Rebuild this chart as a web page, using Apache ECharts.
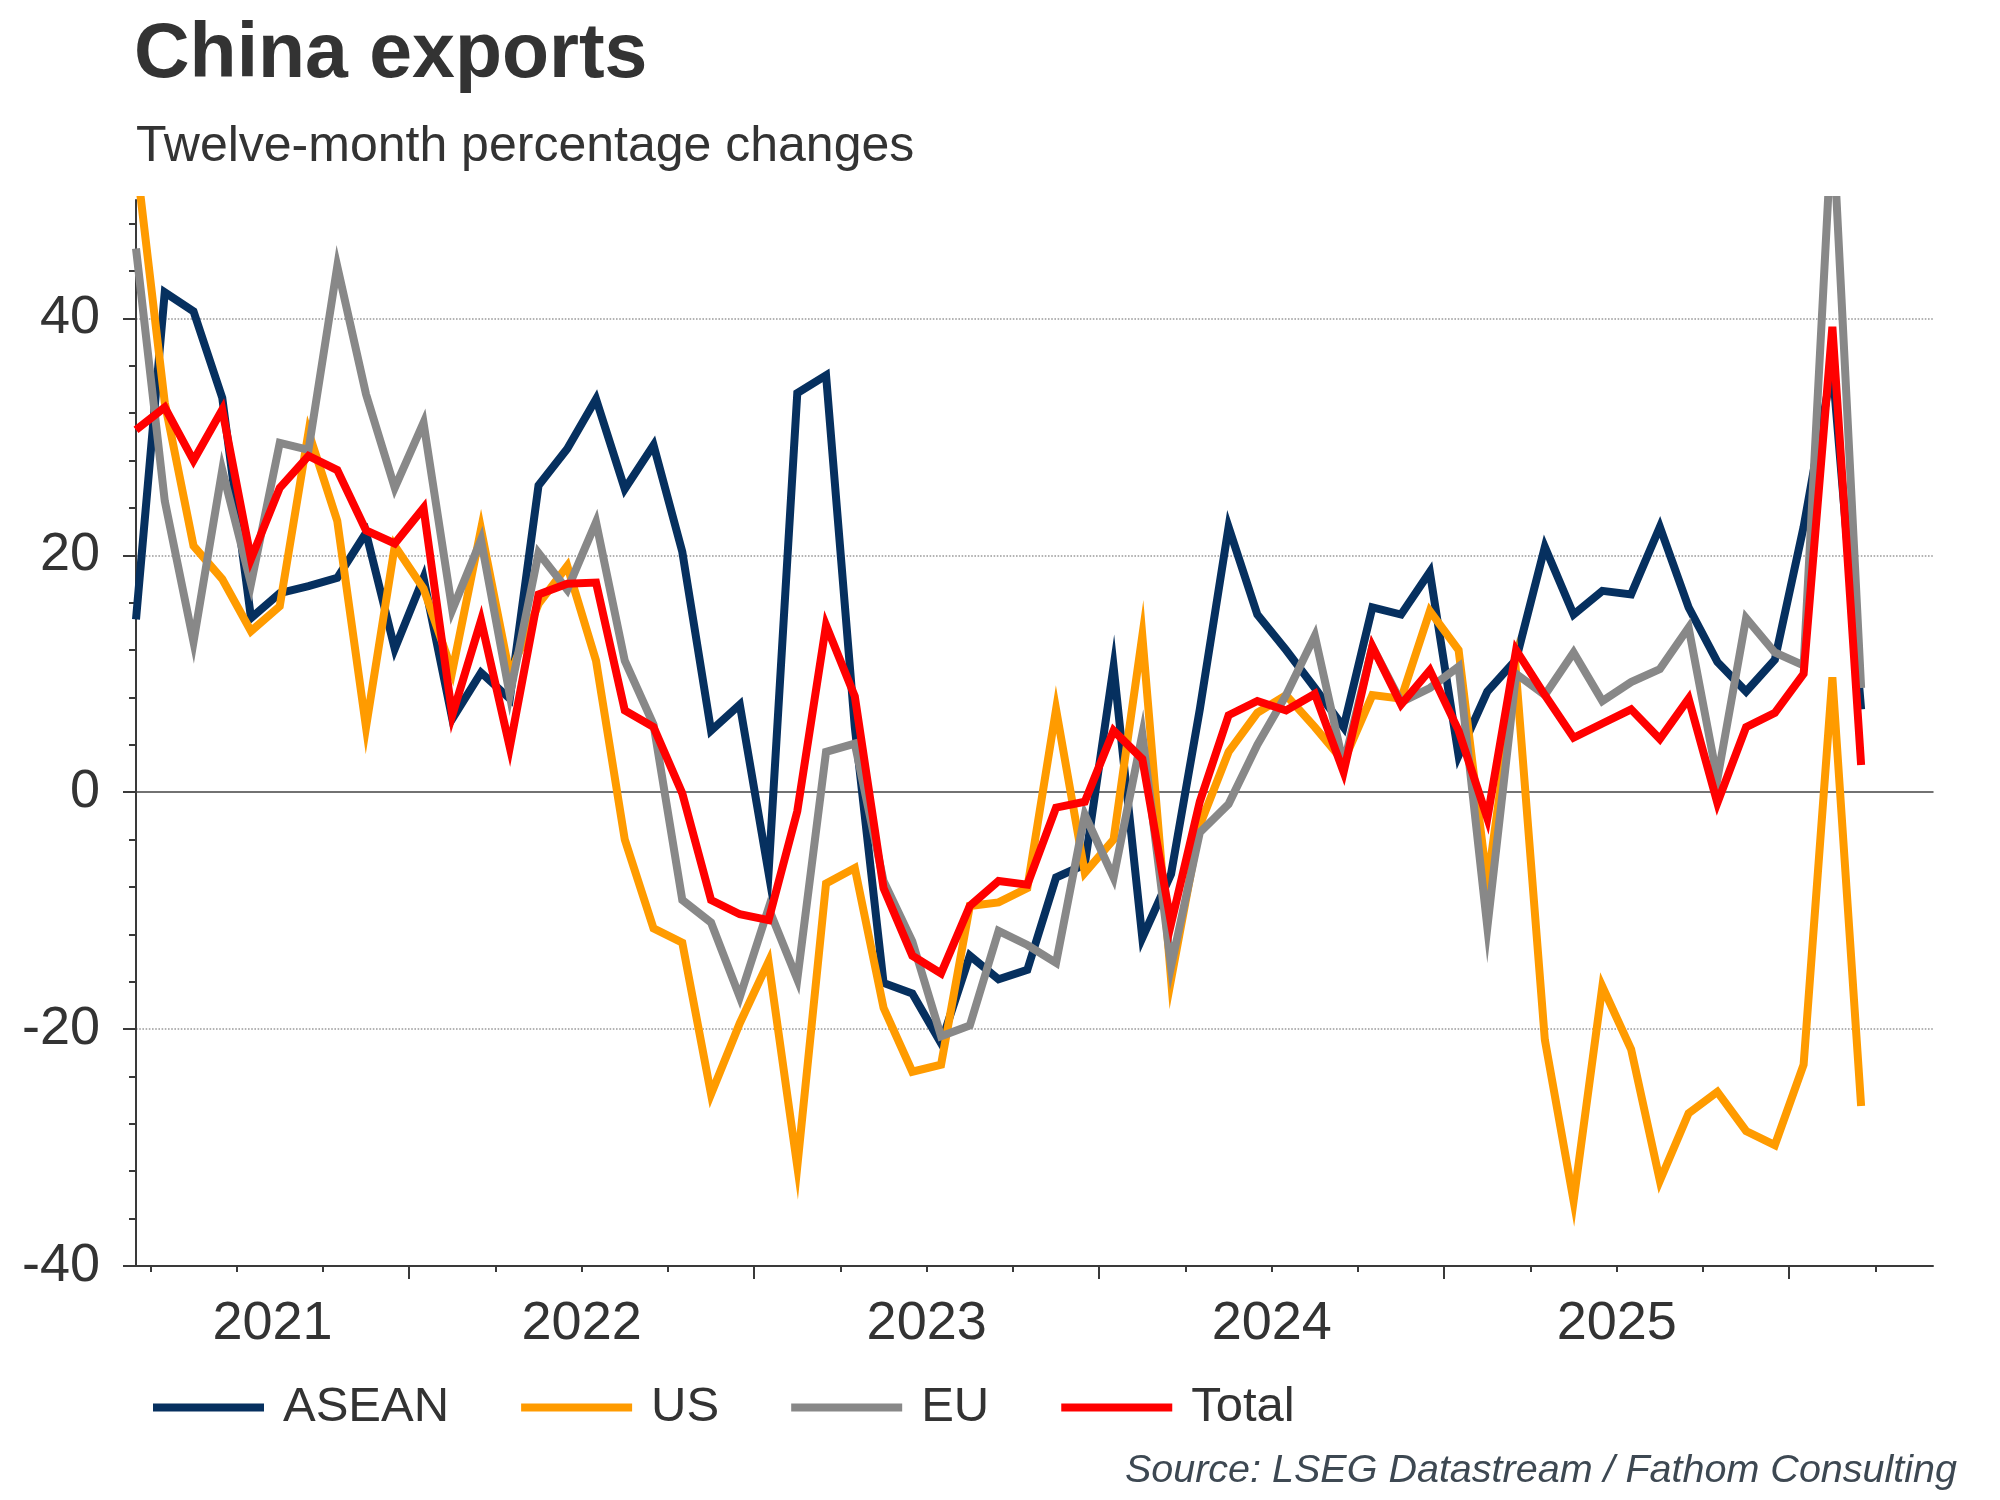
<!DOCTYPE html>
<html>
<head>
<meta charset="utf-8">
<script src="https://cdn.jsdelivr.net/npm/echarts@6/dist/echarts.min.js"></script>
<style>
html,body{margin:0;padding:0;background:#fff;}
#chart{width:2000px;height:1500px;}
</style>
</head>
<body>
<div id="chart"></div>
<script>
// ---- data ----
var months = [
  '2021-03','2021-04','2021-05','2021-06','2021-07','2021-08','2021-09','2021-10','2021-11','2021-12',
  '2022-01','2022-02','2022-03','2022-04','2022-05','2022-06','2022-07','2022-08','2022-09','2022-10','2022-11','2022-12',
  '2023-01','2023-02','2023-03','2023-04','2023-05','2023-06','2023-07','2023-08','2023-09','2023-10','2023-11','2023-12',
  '2024-01','2024-02','2024-03','2024-04','2024-05','2024-06','2024-07','2024-08','2024-09','2024-10','2024-11','2024-12',
  '2025-01','2025-02','2025-03','2025-04','2025-05','2025-06','2025-07','2025-08','2025-09','2025-10','2025-11','2025-12',
  '2026-01','2026-02','2026-03'
];
var asean = [14.6,42.2,40.6,33.3,14.7,16.8,17.4,18.1,21.9,12.1,
  18.1,6.2,10.1,7.9,25.9,29.0,33.2,25.6,29.3,20.3,5.2,7.4,
  -6.8,33.7,35.2,5.5,-16.1,-17.0,-21.2,-13.8,-15.8,-15.0,-7.2,-6.1,
  10.6,-12.3,-6.9,7.0,22.4,15.0,12.0,8.8,5.5,15.6,15.0,18.6,
  3.1,8.5,11.2,20.7,15.0,17.0,16.7,22.4,15.6,11.0,8.5,11.2,
  22.4,36.0,7.0];
var us = [53.6,32.9,20.8,18.0,13.6,15.7,30.4,22.9,5.5,20.8,
  17.2,10.2,22.2,9.9,15.9,19.1,11.1,-4.0,-11.5,-12.7,-25.5,-19.5,
  -14.3,-31.6,-7.7,-6.4,-18.2,-23.6,-23.0,-9.6,-9.3,-8.1,7.0,-6.8,
  -4.0,13.2,-15.8,-2.8,3.4,6.7,8.2,5.5,2.6,8.2,7.9,15.3,
  12.0,-7.8,10.0,-20.9,-34.5,-16.4,-21.7,-32.8,-27.1,-25.3,-28.6,-29.8,
  -23.0,9.7,-26.5];
var eu = [45.9,24.6,12.7,27.2,17.6,29.5,28.9,44.4,33.6,25.7,
  31.2,15.4,21.3,8.2,20.2,17.1,22.8,11.1,5.7,-9.1,-11.0,-17.3,
  -9.8,-15.8,3.4,4.1,-7.5,-12.6,-20.6,-19.7,-11.7,-12.9,-14.4,-1.9,
  -7.2,4.9,-14.7,-3.4,-1.0,4.0,8.2,13.2,2.3,12.3,7.6,8.8,
  10.6,-11.4,10.0,8.2,11.8,7.7,9.3,10.4,13.9,1.1,14.7,11.8,
  10.7,57.0,8.8];
var total = [30.6,32.5,28.0,32.3,19.7,25.7,28.4,27.2,22.1,21.0,
  24.0,6.5,14.5,3.8,16.7,17.6,17.7,6.9,5.5,-0.1,-9.1,-10.3,
  -10.8,-1.6,14.1,8.1,-8.1,-13.8,-15.3,-9.6,-7.5,-7.8,-1.3,-0.8,
  5.2,2.8,-11.1,-0.8,6.5,7.7,6.9,8.3,1.7,12.3,7.4,10.3,
  5.2,-2.2,12.0,8.2,4.6,5.8,7.0,4.5,7.9,-0.9,5.5,6.7,
  10.0,39.3,2.3];
var yearLabels = ['2021','2022','2023','2024','2025'];
var yLabels = [-40,-20,0,20,40];
var seriesNames = ['ASEAN','US','EU','Total'];

// ---- build ----
var FONT = '"Liberation Sans", Arial, sans-serif';
var xMin = 2.5, xMax = 65;
function monthPos(s){
  var y = parseInt(s.slice(0,4),10), m = parseInt(s.slice(5,7),10);
  return (y-2021)*12 + (m-1) + 0.5;
}
function pairs(vals){ return vals.map(function(v,i){ return [monthPos(months[i]), v]; }); }

var xMinorTicks = [], xMajorTicks = [], xLabelPos = [];
for (var t = 3; t <= 63; t += 3) { if (t % 12 === 0) xMajorTicks.push(t); else xMinorTicks.push(t); }
yearLabels.forEach(function(lbl, k){
  var a = Math.max(12*k, xMin), b = Math.min(12*k+12, xMax);
  xLabelPos.push((a+b)/2);
});
var yMinorTicks = [];
for (var v = -36; v <= 48; v += 4) { if (v % 20 !== 0) yMinorTicks.push(v); }

var axisColor = '#3a3a3a';
var colors = ['#06305f','#ff9b00','#888888','#ff0000'];
var dataSets = [asean, us, eu, total];

var chart = echarts.init(document.getElementById('chart'), null, {renderer:'canvas'});
chart.setOption({
  animation: false,
  backgroundColor: '#ffffff',
  title: [
    {text:'China exports', left:134, top:17, padding:0,
     textStyle:{fontFamily:FONT, fontSize:77, fontWeight:'bold', color:'#333333'}},
    {text:'Twelve-month percentage changes', left:136, top:122, padding:0,
     textStyle:{fontFamily:FONT, fontSize:50, fontWeight:'normal', color:'#333333'}},
    {text:'Source: LSEG Datastream / Fathom Consulting', right:43, top:1451, padding:0,
     textStyle:{fontFamily:FONT, fontSize:39.5, fontStyle:'italic', fontWeight:'normal', color:'#3d4852'}}
  ],
  legend: {
    data: seriesNames, left:153, top:1383, icon:'rect', itemWidth:111, itemHeight:8, itemGap:72,
    padding:0,
    textStyle:{fontFamily:FONT, fontSize:49, color:'#333333', padding:[0,0,0,14]}
  },
  grid: {left:136, right:67, top:200, bottom:234, containLabel:false},
  xAxis: [
    {type:'value', min:xMin, max:xMax, position:'bottom',
     axisLine:{show:true, onZero:false, lineStyle:{color:axisColor, width:2}},
     axisTick:{show:true, customValues:xMinorTicks, length:6, lineStyle:{color:axisColor, width:2}},
     axisLabel:{show:false}, splitLine:{show:false}},
    {type:'value', min:xMin, max:xMax, position:'bottom',
     axisLine:{show:false, onZero:false},
     axisTick:{show:true, customValues:xMajorTicks, length:13, lineStyle:{color:axisColor, width:2}},
     axisLabel:{show:true, customValues:xLabelPos, margin:31, fontFamily:FONT, fontSize:54, color:'#333333',
       formatter:function(v){ return yearLabels[Math.floor(v/12)] || ''; }},
     splitLine:{show:false}},
    {type:'value', min:xMin, max:xMax, position:'bottom',
     axisLine:{show:true, onZero:true, lineStyle:{color:'#444444', width:1.5}},
     axisTick:{show:false}, axisLabel:{show:false}, splitLine:{show:false}}
  ],
  yAxis: [
    {type:'value', min:-40, max:50, interval:20, position:'left',
     axisLine:{show:true, onZero:false, lineStyle:{color:axisColor, width:2}},
     axisTick:{show:true, customValues:yLabels, length:13, lineStyle:{color:axisColor, width:2}},
     axisLabel:{show:true, customValues:yLabels, margin:36, fontFamily:FONT, fontSize:54, color:'#333333'},
     splitLine:{show:true, lineStyle:{type:'dotted', width:1.6,
       color:['rgba(0,0,0,0)','#9a9a9a','rgba(0,0,0,0)','#9a9a9a','#9a9a9a','rgba(0,0,0,0)']}}},
    {type:'value', min:-40, max:50, interval:4, position:'left',
     axisLine:{show:false, onZero:false},
     axisTick:{show:true, customValues:yMinorTicks, length:7, lineStyle:{color:axisColor, width:2}},
     axisLabel:{show:false}, splitLine:{show:false}}
  ],
  series: seriesNames.map(function(name, k){
    return {
      name:name, type:'line', xAxisIndex:0, yAxisIndex:0,
      data: pairs(dataSets[k]),
      showSymbol:false, symbol:'none', clip:true,
      color: colors[k],
      lineStyle:{color:colors[k], width:8, join:'miter'},
      emphasis:{disabled:true}
    };
  })
});
</script>
</body>
</html>
